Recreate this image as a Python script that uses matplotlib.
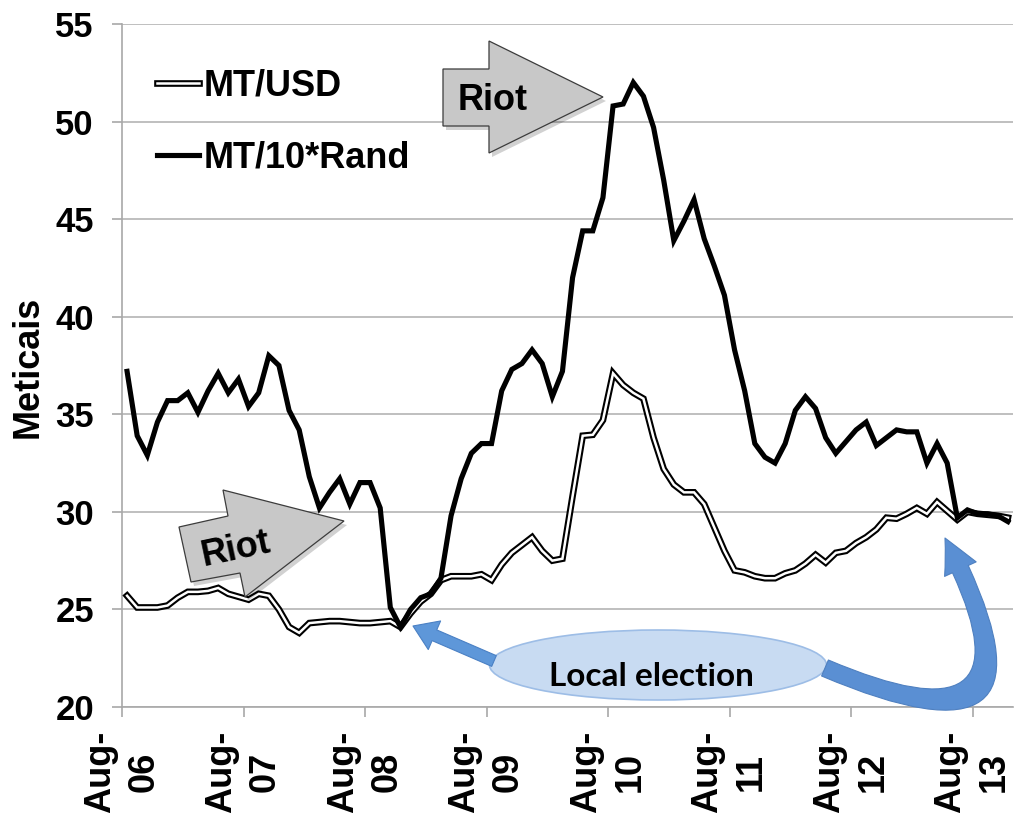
import matplotlib
matplotlib.use("Agg")
import matplotlib.pyplot as plt
import numpy as np
from matplotlib.lines import Line2D
from matplotlib.patches import Polygon, Ellipse, FancyArrowPatch

plt.rcParams['font.family'] = ['Liberation Sans', 'DejaVu Sans']

# monthly values, Aug-06 .. Nov-13
usd = [25.7, 25.1, 25.1, 25.1, 25.2, 25.6, 25.9, 25.9, 25.95, 26.1,
       25.8, 25.65, 25.5, 25.8, 25.7, 25.0, 24.1, 23.8, 24.3, 24.35,
       24.4, 24.4, 24.35, 24.3, 24.3, 24.35, 24.4, 24.1, 24.8, 25.4,
       25.8, 26.5, 26.7, 26.7, 26.7, 26.8, 26.5, 27.3, 27.9, 28.3,
       28.7, 28.0, 27.5, 27.6, 30.8, 33.9, 33.95, 34.7, 37.1, 36.5,
       36.1, 35.8, 33.8, 32.2, 31.4, 31.0, 31.0, 30.4, 29.2, 28.0,
       27.0, 26.9, 26.7, 26.6, 26.6, 26.85, 27.0, 27.35, 27.8, 27.4,
       27.9, 28.0, 28.4, 28.7, 29.1, 29.7, 29.65, 29.9, 30.2, 29.9,
       30.5, 30.05, 29.6, 30.0, 29.9, 29.85, 29.8, 29.7]
rand = [37.2, 33.9, 32.9, 34.6, 35.7, 35.7, 36.1, 35.1, 36.2, 37.1,
        36.1, 36.8, 35.4, 36.1, 38.0, 37.5, 35.2, 34.2, 31.8, 30.2,
        31.0, 31.7, 30.4, 31.5, 31.5, 30.2, 25.1, 24.1, 25.0, 25.6,
        25.8, 26.6, 29.8, 31.7, 33.0, 33.5, 33.5, 36.2, 37.3, 37.6,
        38.3, 37.6, 35.9, 37.2, 42.0, 44.4, 44.4, 46.1, 50.8, 50.9,
        52.0, 51.3, 49.7, 47.0, 43.9, 44.9, 46.0, 44.0, 42.6, 41.1,
        38.3, 36.2, 33.5, 32.8, 32.5, 33.5, 35.2, 35.9, 35.3, 33.8,
        33.0, 33.6, 34.2, 34.6, 33.4, 33.8, 34.2, 34.1, 34.1, 32.5,
        33.5, 32.5, 29.7, 30.1, 29.9, 29.9, 29.8, 29.5]
tick_labels = ['Aug-\n06', 'Aug-\n07', 'Aug-\n08', 'Aug-\n09',
               'Aug-\n10', 'Aug-\n11', 'Aug-\n12', 'Aug-\n13']
y_ticks = [20, 25, 30, 35, 40, 45, 50, 55]

FS = 26
W, H = 1023, 816
fig = plt.figure(figsize=(W / 100, H / 100), dpi=100)
ax = fig.add_axes([122 / W, 1 - 707 / H, 891 / W, 683 / H])

x = np.arange(len(usd)) + 0.5
ax.plot(x, usd, color='black', lw=4.8, solid_joinstyle='miter', zorder=3)
ax.plot(x, usd, color='white', lw=1.8, solid_joinstyle='miter', zorder=3)
ax.plot(x, rand, color='black', lw=3.7, solid_joinstyle='miter', zorder=4)

ax.set_xlim(0, len(usd))
ax.set_ylim(20, 55)
ax.set_yticks(y_ticks)
ax.set_xticks(np.arange(len(tick_labels)) * 12)
ax.set_xticklabels(tick_labels, rotation=90, fontsize=FS, fontweight='bold',
                   linespacing=1.32)
for t in ax.get_xticklabels():
    t.set_multialignment('center')
for t in ax.get_yticklabels():
    t.set_fontweight('bold')
    t.set_fontsize(FS - 1)

ax.grid(axis='y', color='#b4b4b4', lw=1.2)
ax.set_axisbelow(True)
for s in ['top', 'right']:
    ax.spines[s].set_visible(False)
for s in ['left', 'bottom']:
    ax.spines[s].set_color('#a8a8a8')
    ax.spines[s].set_linewidth(1.2)
ax.tick_params(axis='y', length=7.2, width=1.2, color='#a8a8a8', pad=13)
ax.tick_params(axis='x', length=7.2, width=1.2, color='#a8a8a8', pad=10)

fig.text(28 / W, 1 - 367 / H, 'Meticais', rotation=90, ha='center', va='center',
         fontsize=FS, fontweight='bold')

# legend
h_usd = (Line2D([], [], color='black', lw=4.8), Line2D([], [], color='white', lw=1.8))
h_rand = Line2D([], [], color='black', lw=3.7)
ax.legend([h_usd, h_rand], ['MT/USD', 'MT/10*Rand'], loc='upper left',
          bbox_to_anchor=(0.039, 0.935), frameon=False, borderpad=0,
          borderaxespad=0, handlelength=1.17, handletextpad=0.12,
          labelspacing=1.02, prop={'weight': 'bold', 'size': FS})


def px(a, b):
    return (a / W, 1 - b / H)


def riot(points, text_xy, angle):
    shadow = Polygon([px(a + 3, b + 4) for a, b in points], closed=True,
                     transform=fig.transFigure, fc=(0, 0, 0, 0.18), ec='none', zorder=5)
    body = Polygon([px(a, b) for a, b in points], closed=True,
                   transform=fig.transFigure, fc='#c8c8c8', ec='#3c3c3c', lw=0.9, zorder=6)
    fig.add_artist(shadow)
    fig.add_artist(body)
    fig.text(*px(*text_xy), 'Riot', rotation=angle, ha='center', va='center',
             fontsize=FS, fontweight='bold', zorder=7, rotation_mode='anchor')


riot([(443, 69), (489, 69), (489, 41), (603, 97), (489, 153), (489, 126), (443, 126)],
     (493, 101), 0)
riot([(179, 527), (228, 516), (223, 490), (344, 521), (245, 597), (240, 573), (191, 582)],
     (236, 549), 12)

# local election annotation
ell = Ellipse(px(658, 665), 337 / W, 70 / H, transform=fig.transFigure,
              fc='#c8dbf2', ec='#9dbde6', lw=1.2, zorder=5)
fig.add_artist(ell)
fig.text(*px(651, 676), 'Local election', ha='center', va='center',
         fontsize=24, fontweight='bold', family=['Lato', 'DejaVu Sans'], zorder=7)

arr1 = FancyArrowPatch(px(494, 661), px(413, 626), transform=fig.transFigure,
                       arrowstyle='simple,head_length=1.2,head_width=1.6,tail_width=0.6',
                       mutation_scale=14, shrinkA=0, shrinkB=0,
                       fc='#5e97d9', ec='#4a80c4', lw=0.8, zorder=6)
fig.add_artist(arr1)
arr2 = FancyArrowPatch(px(825, 668), px(945, 538), transform=fig.transFigure,
                       connectionstyle='arc3,rad=1.4',
                       arrowstyle='simple,head_length=1.0,head_width=1.0,tail_width=0.5',
                       mutation_scale=25, shrinkA=0, shrinkB=0,
                       fc='#5a8fd3', ec='#4f80c0', lw=0.8, zorder=6)
fig.add_artist(arr2)

fig.savefig('out.png', dpi=100)
